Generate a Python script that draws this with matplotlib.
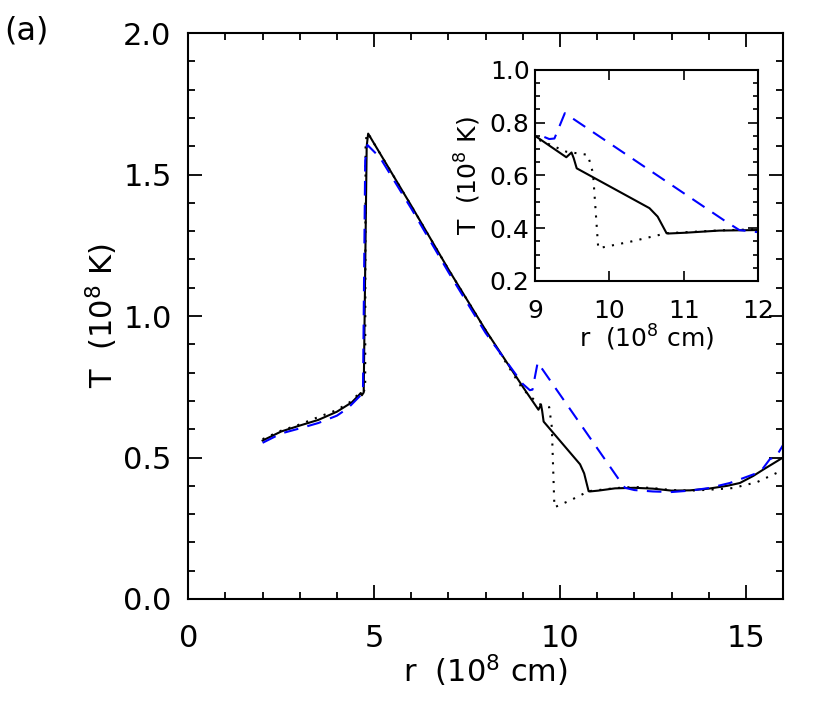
import numpy as np
import matplotlib
matplotlib.use('Agg')
import matplotlib.pyplot as plt
from matplotlib.ticker import MultipleLocator

# solid black curve
r_solid = [2.0, 2.5, 3.0, 3.5, 4.0, 4.4, 4.6, 4.64, 4.67, 4.72, 4.80, 4.84,
           6.0, 7.0, 8.0, 9.0, 9.42, 9.49, 9.52, 9.56, 10.54, 10.65, 10.77,
           10.8, 11.03, 11.48, 12.0, 12.5, 13.0, 13.5, 14.0, 14.5, 14.84,
           15.2, 15.5, 16.0]
T_solid = [0.56, 0.592, 0.613, 0.633, 0.662, 0.695, 0.722, 0.728, 0.72, 0.73,
           1.60, 1.645, 1.39, 1.165, 0.95, 0.75, 0.669, 0.687, 0.665, 0.627,
           0.476, 0.444, 0.381, 0.38, 0.383, 0.391, 0.393, 0.39, 0.383,
           0.384, 0.39, 0.40, 0.41, 0.435, 0.46, 0.50]

# dotted black curve
r_dot = [2.0, 2.5, 3.0, 3.5, 4.0, 4.4, 4.6, 4.72, 4.76, 4.77, 4.80, 4.84,
         6.0, 7.0, 8.0, 9.0, 9.42, 9.71, 9.78, 9.85, 10.3, 10.77, 11.5,
         12.0, 12.5, 13.0, 13.5, 14.0, 14.65, 15.3, 16.0]
T_dot = [0.565, 0.595, 0.617, 0.643, 0.668, 0.70, 0.728, 0.735, 0.74, 1.60,
         1.645, 1.645, 1.39, 1.165, 0.95, 0.741, 0.69, 0.678, 0.608, 0.324,
         0.35, 0.381, 0.392, 0.396, 0.392, 0.385, 0.383, 0.386, 0.392,
         0.413, 0.456]

# dashed blue curve
r_dash = [2.0, 2.5, 3.0, 3.5, 4.0, 4.3, 4.6, 4.7, 4.76, 4.82, 5.16, 6.0,
          7.0, 8.0, 9.0, 9.19, 9.26, 9.4, 11.56, 11.75, 12.0, 12.5, 13.0,
          13.5, 14.0, 14.57, 15.3, 15.45, 15.65, 15.8, 16.0]
T_dash = [0.552, 0.585, 0.603, 0.622, 0.648, 0.675, 0.715, 0.73, 1.55,
          1.605, 1.56, 1.38, 1.155, 0.94, 0.76, 0.738, 0.74, 0.836, 0.427,
          0.393, 0.385, 0.38, 0.378, 0.383, 0.392, 0.41, 0.445, 0.46,
          0.495, 0.50, 0.544]

plt.rcParams['font.family'] = 'DejaVu Sans'

fig = plt.figure(figsize=(8.22, 7.06), dpi=100)
ax = fig.add_axes([0.229, 0.1516, 0.7236, 0.8014])


def draw_curves(a, lw):
    a.plot(r_solid, T_solid, color='black', lw=lw)
    a.plot(r_dot, T_dot, color='black', lw=lw, linestyle=(0, (1, 3.5)))
    a.plot(r_dash, T_dash, color='blue', lw=lw, linestyle=(0, (7, 4.5)))


draw_curves(ax, 1.5)
ax.set_xlim(0, 16)
ax.set_ylim(0, 2.0)
ax.xaxis.set_major_locator(MultipleLocator(5))
ax.xaxis.set_minor_locator(MultipleLocator(1))
ax.yaxis.set_major_locator(MultipleLocator(0.5))
ax.yaxis.set_minor_locator(MultipleLocator(0.1))
ax.yaxis.set_major_formatter(matplotlib.ticker.FormatStrFormatter('%.1f'))
ax.tick_params(which='both', direction='in', top=True, right=True,
               width=1.3, labelsize=22)
ax.tick_params(which='major', length=10)
ax.tick_params(which='minor', length=5)
ax.tick_params(axis='x', pad=18)
ax.tick_params(axis='y', pad=12)
for s in ax.spines.values():
    s.set_linewidth(1.5)
ax.set_xlabel(r'r  (10$^8$ cm)', fontsize=22, labelpad=0)
ax.set_ylabel(r'T  (10$^8$ K)', fontsize=22, labelpad=2)
fig.text(0.005, 0.978, '(a)', fontsize=23, va='top', ha='left')

# inset
ins = fig.add_axes([0.651, 0.602, 0.271, 0.299])
draw_curves(ins, 1.5)
ins.set_xlim(9, 12)
ins.set_ylim(0.2, 1.0)
ins.xaxis.set_major_locator(MultipleLocator(1))
ins.yaxis.set_major_locator(MultipleLocator(0.2))
ins.yaxis.set_minor_locator(MultipleLocator(0.05))
ins.yaxis.set_major_formatter(matplotlib.ticker.FormatStrFormatter('%.1f'))
ins.tick_params(which='both', direction='in', top=True, right=True,
                width=1.2, labelsize=18)
ins.tick_params(which='major', length=7)
ins.tick_params(which='minor', length=3.5)
ins.tick_params(axis='x', pad=13)
ins.tick_params(axis='y', pad=4)
for s in ins.spines.values():
    s.set_linewidth(1.5)
ins.set_xlabel(r'r  (10$^8$ cm)', fontsize=18, labelpad=0)
ins.set_ylabel(r'T  (10$^8$ K)', fontsize=18, labelpad=5)

fig.savefig('out.png', dpi=100)
